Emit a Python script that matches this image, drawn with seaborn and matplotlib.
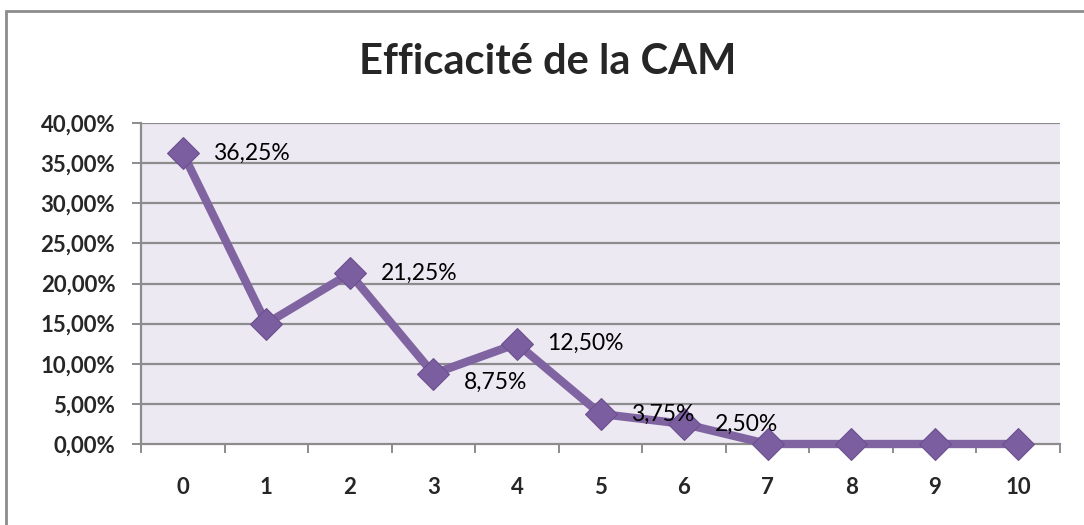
import matplotlib
matplotlib.use("Agg")
import matplotlib.pyplot as plt
import seaborn as sns
import pandas as pd
import numpy as np
from matplotlib.patches import Rectangle
from matplotlib.ticker import FuncFormatter, MultipleLocator, FixedLocator

categories = [0, 1, 2, 3, 4, 5, 6, 7, 8, 9, 10]
values = [36.25, 15.00, 21.25, 8.75, 12.50, 3.75, 2.50, 0.0, 0.0, 0.0, 0.0]
labelled = [0, 2, 3, 4, 5, 6]
title = "Efficacité de la CAM"

sns.set_theme(style="white")
plt.rcParams['font.family'] = ['Lato', 'DejaVu Sans']

fig = plt.figure(figsize=(10.84, 5.25), dpi=100)
ax = fig.add_axes([141/1084, 1-444/525, (1060-141)/1084, (444-123)/525])

df = pd.DataFrame({"cat": categories, "val": values})
ax.set_facecolor('#EDE9F3')
for y in np.arange(5, 41, 5):
    ax.axhline(y, color='#8C8C8C', lw=1.6, zorder=1)

sns.lineplot(data=df, x="cat", y="val", ax=ax, color='#8064A2', lw=6,
             marker='D', markersize=16, markeredgecolor='#6A4F8C',
             markerfacecolor='#7B5EA0', zorder=3, legend=False, clip_on=False)

for i in labelled:
    dy = -6 if i == 3 else 0
    ax.annotate(f"{values[i]:.2f}%".replace('.', ','), (categories[i], values[i]),
                xytext=(22, dy), textcoords='offset points', ha='left', va='center',
                fontsize=16.5, color='black', zorder=4)

ax.set_xlim(-0.5, 10.5)
ax.set_ylim(0, 40)
ax.yaxis.set_major_locator(MultipleLocator(5))
ax.yaxis.set_major_formatter(FuncFormatter(lambda v, p: f"{v:.2f}%".replace('.', ',')))
ax.xaxis.set_major_locator(FixedLocator(np.arange(-0.5, 10.6, 1)))
ax.xaxis.set_major_formatter(FuncFormatter(lambda v, p: ""))
ax.xaxis.set_minor_locator(FixedLocator(categories))
ax.xaxis.set_minor_formatter(FuncFormatter(lambda v, p: f"{int(round(v))}"))
ax.tick_params(axis='x', which='major', direction='out', length=6.5, width=1.4, color='#8C8C8C', bottom=True)
ax.tick_params(axis='x', which='minor', length=0, pad=24, labelsize=16)
ax.tick_params(axis='y', direction='out', length=6.5, width=1.4, color='#8C8C8C', left=True, labelsize=16, pad=12)
for lab in ax.get_xticklabels(minor=True) + ax.get_yticklabels():
    lab.set_fontweight('bold')
ax.set_xlabel("")
ax.set_ylabel("")
for s in ['top', 'right']:
    ax.spines[s].set_visible(False)
for s in ['left', 'bottom']:
    ax.spines[s].set_color('#8C8C8C')
    ax.spines[s].set_linewidth(1.6)

fig.text(548/1084, 1-62/525, title, ha='center', va='center', fontsize=30, fontweight='bold')
fig.patches.append(Rectangle((6/1084, -10/525), 1090/1084, (525-11+10)/525, transform=fig.transFigure,
                             fill=False, edgecolor='#8C8C8C', lw=2, clip_on=False))

fig.savefig("out.png", dpi=100)
